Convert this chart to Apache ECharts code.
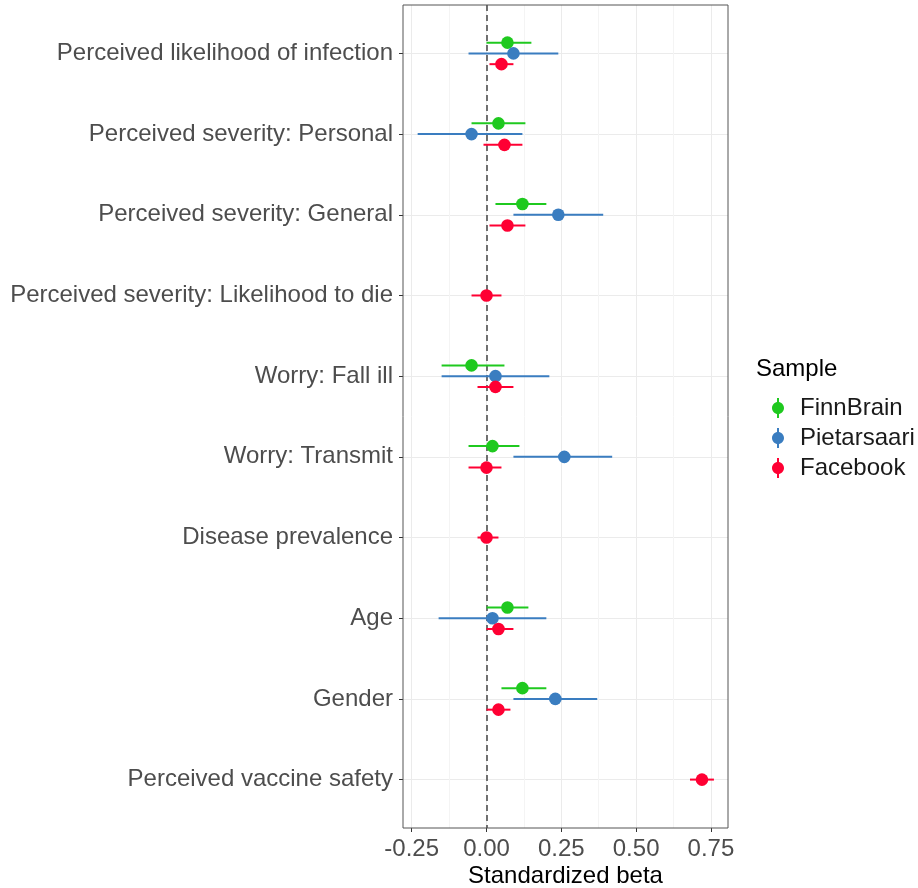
<!DOCTYPE html>
<html>
<head>
<meta charset="utf-8">
<script src="https://cdn.jsdelivr.net/npm/echarts@6/dist/echarts.min.js"></script>
<style>html,body{margin:0;padding:0;background:#fff}#c{width:918px;height:888px}</style>
</head>
<body>
<div id="c"></div>
<script>
const categories = [
  'Perceived likelihood of infection',
  'Perceived severity: Personal',
  'Perceived severity: General',
  'Perceived severity: Likelihood to die',
  'Worry: Fall ill',
  'Worry: Transmit',
  'Disease prevalence',
  'Age',
  'Gender',
  'Perceived vaccine safety'
];
const sampleNames = ['FinnBrain', 'Pietarsaari', 'Facebook'];
// [beta, lower CI, upper CI]
const finnbrain = [[0.07,0.00,0.15],[0.04,-0.05,0.13],[0.12,0.03,0.20],null,[-0.05,-0.15,0.06],[0.02,-0.06,0.11],null,[0.07,0.00,0.14],[0.12,0.05,0.20],null];
const pietarsaari = [[0.09,-0.06,0.24],[-0.05,-0.23,0.12],[0.24,0.09,0.39],null,[0.03,-0.15,0.21],[0.26,0.09,0.42],null,[0.02,-0.16,0.20],[0.23,0.09,0.37],null];
const facebook = [[0.05,0.01,0.09],[0.06,-0.01,0.12],[0.07,0.01,0.13],[0.00,-0.05,0.05],[0.03,-0.03,0.09],[0.00,-0.06,0.05],[0.00,-0.03,0.04],[0.04,0.00,0.09],[0.04,0.00,0.08],[0.72,0.68,0.76]];
const xTicks = [-0.25, 0, 0.25, 0.5, 0.75];
const xMinor = [-0.125, 0.125, 0.375, 0.625];
const yTicks = [1, 2, 3, 4, 5, 6, 7, 8, 9, 10];

const colors = ['#1FC91F', '#3A7DC0', '#FF0033'];
const allData = [finnbrain, pietarsaari, facebook];
const dodge = 0.4;

// which samples are present per category (for dodging)
const present = categories.map((c, i) => allData.map((d, s) => d[i] ? s : -1).filter(s => s >= 0));

function makeRender(si) {
  return function (params, api) {
    const cat = api.value(0);
    const pres = present[cat - 1];
    const n = pres.length;
    const rank = pres.indexOf(si);
    const y = cat + (n === 1 ? 0 : (rank - (n - 1) / 2) * dodge / 3);
    const p0 = api.coord([api.value(2), y]);
    const p1 = api.coord([api.value(3), y]);
    const pm = api.coord([api.value(1), y]);
    const col = colors[si];
    return {
      type: 'group',
      children: [
        { type: 'line', shape: { x1: p0[0], y1: p0[1], x2: p1[0], y2: p1[1] }, style: { stroke: col, lineWidth: 2 } },
        { type: 'circle', shape: { cx: pm[0], cy: pm[1], r: 6.3 }, style: { fill: col } }
      ]
    };
  };
}

const legendIcon = 'path://M5,0L7,0L7,20L5,20Z M0,10C0,6.686 2.686,4 6,4C9.314,4 12,6.686 12,10C12,13.314 9.314,16 6,16C2.686,16 0,13.314 0,10Z';

const series = allData.map((d, si) => ({
  name: sampleNames[si],
  type: 'custom',
  renderItem: makeRender(si),
  xAxisIndex: 0,
  yAxisIndex: 0,
  z: 5,
  itemStyle: { color: colors[si] },
  encode: { x: [1, 2, 3], y: 0 },
  data: d.map((v, i) => v ? [i + 1, v[0], v[1], v[2]] : null).filter(v => v)
}));

series.push({
  type: 'line',
  data: [],
  xAxisIndex: 0,
  yAxisIndex: 0,
  z: 2,
  silent: true,
  markLine: {
    silent: true,
    symbol: ['none', 'none'],
    label: { show: false },
    lineStyle: { color: '#444', type: [6, 4], width: 1.5 },
    data: [{ xAxis: 0 }],
    animation: false
  }
});

const font = 'Liberation Sans, Arial, Helvetica, sans-serif';

const option = {
  animation: false,
  backgroundColor: '#fff',
  grid: { left: 403, right: 190, top: 5, bottom: 60, containLabel: false, outerBoundsMode: 'none', show: true, borderColor: '#555', borderWidth: 1, backgroundColor: 'transparent', z: 10 },
  xAxis: [{
    type: 'value',
    min: -0.279, max: 0.807,
    name: 'Standardized beta',
    nameLocation: 'middle',
    nameGap: 36,
    nameMoveOverlap: false,
    nameTextStyle: { fontFamily: font, fontSize: 24, color: '#000' },
    axisLine: { show: false, onZero: false },
    axisTick: { show: true, length: 4, lineStyle: { color: '#333' }, customValues: xTicks },
    axisLabel: { customValues: xTicks, fontFamily: font, fontSize: 24, color: '#4D4D4D', margin: 9, formatter: v => v.toFixed(2) },
    splitLine: { show: true, lineStyle: { color: '#EBEBEB', width: 1 } }
  }, {
    type: 'value',
    min: -0.279, max: 0.807,
    position: 'bottom',
    axisLine: { show: false, onZero: false },
    axisTick: { show: false, customValues: xMinor },
    axisLabel: { show: false, customValues: xMinor },
    splitLine: { show: true, lineStyle: { color: '#F4F4F4', width: 1 } }
  }],
  yAxis: [{
    type: 'value',
    min: 0.4, max: 10.6,
    inverse: true,
    axisLine: { show: false, onZero: false },
    axisTick: { show: true, length: 4, lineStyle: { color: '#333' }, customValues: yTicks },
    axisLabel: { customValues: yTicks, fontFamily: font, fontSize: 24, color: '#4D4D4D', margin: 10, formatter: v => categories[Math.round(v) - 1] || '' },
    splitLine: { show: true, lineStyle: { color: '#EBEBEB', width: 1 } }
  }],
  legend: {
    orient: 'vertical',
    left: 767,
    top: 391,
    itemWidth: 12,
    itemHeight: 20,
    itemGap: 6,
    icon: legendIcon,
    textStyle: { fontFamily: font, fontSize: 24, color: '#1a1a1a', padding: [0, 0, 0, 11] },
    data: sampleNames
  },
  graphic: [{
    type: 'text',
    left: 756,
    top: 357,
    style: { text: 'Sample', fontFamily: font, fontSize: 24, fill: '#000' }
  }],
  series: series
};

const chart = echarts.init(document.getElementById('c'), null, { renderer: 'canvas' });
chart.setOption(option);
</script>
</body>
</html>
